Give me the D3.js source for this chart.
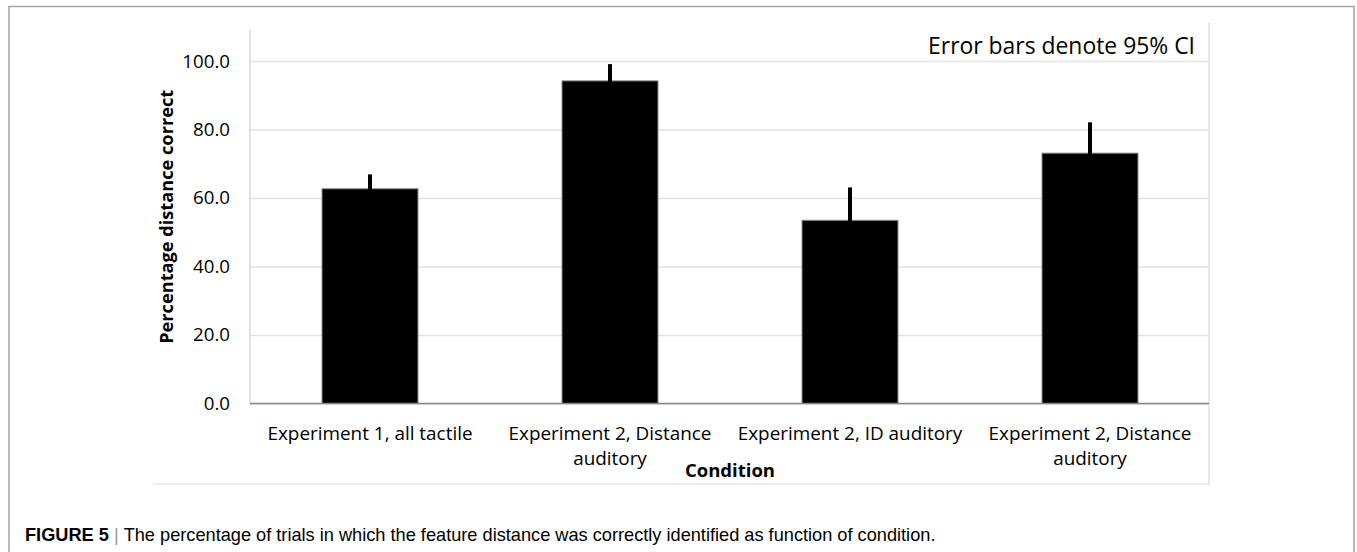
<!DOCTYPE html>
<html>
<head>
<meta charset="utf-8">
<script src="https://cdn.jsdelivr.net/npm/d3@7"></script>
<style>
    body { margin: 0; background: #fff; }
    svg { display: block; }
</style>
</head>
<body>
<div id="chart"></div>
<script>
/**
 * Percentage distance correct by condition (bars + 95% CI)
 */

var conditions = [
    'Experiment 1, all tactile',
    'Experiment 2, Distance auditory',
    'Experiment 2, ID auditory',
    'Experiment 2, Distance auditory '
];
// label lines under each bar
var conditionLines = [
    ['Experiment 1, all tactile'],
    ['Experiment 2, Distance', 'auditory'],
    ['Experiment 2, ID auditory'],
    ['Experiment 2, Distance', 'auditory']
];
var percentCorrect = [62.7, 94.2, 53.5, 73.1];
var ciHalfWidth = [4.2, 4.9, 9.6, 9.0];
var yTicks = [0, 20, 40, 60, 80, 100];

var svgWidth = 1357;
var svgHeight = 552;

var svg = d3.select('#chart')
    .append('svg')
    .attr('width', svgWidth)
    .attr('height', svgHeight);

// outer figure frame
svg.append('rect')
    .attr('x', 9)
    .attr('y', 6.5)
    .attr('width', 1345)
    .attr('height', 560)
    .style('fill', 'none')
    .style('stroke', '#a3a3a3')
    .style('stroke-width', 1.5);

// chart box (only right and bottom edges show)
svg.append('path')
    .attr('d', 'M1209,23 V484 H153')
    .style('fill', 'none')
    .style('stroke', '#d9d9d9')
    .style('stroke-width', 1.2);

var x = d3.scaleBand()
    .domain(conditions)
    .range([250, 1210])
    .paddingInner(0.6)
    .paddingOuter(0.3);

var y = d3.scaleLinear()
    .domain([0, 109])
    .range([403.5, 30.2]);

// gridlines + tick labels
var yAxis = svg.append('g')
    .attr('transform', 'translate(250,0)')
    .call(d3.axisLeft(y)
        .tickValues(yTicks)
        .tickFormat(d3.format('.1f'))
        .tickSize(-959)
        .tickPadding(20));

yAxis.select('.domain').remove();
yAxis.selectAll('.tick line')
    .style('stroke', '#e3e3e3')
    .style('stroke-width', 1.5);
yAxis.selectAll('.tick text')
    .style('font-family', '"Open Sans", sans-serif')
    .style('font-size', '18.7px')
    .style('fill', '#000');

// y axis line
svg.append('line')
    .attr('x1', 250).attr('x2', 250)
    .attr('y1', y(109)).attr('y2', y(0))
    .style('stroke', '#cfcfcf')
    .style('stroke-width', 1.2);

// bars
svg.selectAll('rect.bar')
    .data(percentCorrect)
    .enter()
    .append('rect')
    .attr('class', 'bar')
    .attr('x', function(d, i) { return x(conditions[i]); })
    .attr('y', function(d) { return y(d); })
    .attr('width', x.bandwidth())
    .attr('height', function(d) { return y(0) - y(d); })
    .style('fill', '#000')
    .style('stroke', '#8c8c8c')
    .style('stroke-width', 1);

// error bars
svg.selectAll('line.err')
    .data(percentCorrect)
    .enter()
    .append('line')
    .attr('class', 'err')
    .attr('x1', function(d, i) { return x(conditions[i]) + x.bandwidth() / 2; })
    .attr('x2', function(d, i) { return x(conditions[i]) + x.bandwidth() / 2; })
    .attr('y1', function(d, i) { return y(d - ciHalfWidth[i]); })
    .attr('y2', function(d, i) { return y(d + ciHalfWidth[i]); })
    .style('stroke', '#000')
    .style('stroke-width', 4);

// x axis line
svg.append('line')
    .attr('x1', 250).attr('x2', 1209)
    .attr('y1', y(0)).attr('y2', y(0))
    .style('stroke', '#868686')
    .style('stroke-width', 1.5);

// category labels
var labels = svg.selectAll('text.cat')
    .data(conditionLines)
    .enter()
    .append('text')
    .attr('class', 'cat')
    .attr('text-anchor', 'middle')
    .style('font-family', '"Open Sans", sans-serif')
    .style('font-size', '18.9px')
    .style('fill', '#000');

labels.selectAll('tspan')
    .data(function(d, i) {
        return d.map(function(line) { return { line: line, i: i }; });
    })
    .enter()
    .append('tspan')
    .attr('x', function(d) { return x(conditions[d.i]) + x.bandwidth() / 2; })
    .attr('y', function(d, j) { return 439.5 + j * 25.7; })
    .text(function(d) { return d.line; });

// axis titles
svg.append('text')
    .attr('x', 730)
    .attr('y', 477)
    .attr('text-anchor', 'middle')
    .style('font-family', '"Open Sans", sans-serif')
    .style('font-weight', 'bold')
    .style('font-size', '18.5px')
    .text('Condition');

// centred on the whole plot area, like Excel does
svg.append('text')
    .attr('transform', 'translate(173,' + ((y(0) + y(109)) / 2) + ') rotate(-90)')
    .attr('text-anchor', 'middle')
    .style('font-family', '"Open Sans", sans-serif')
    .style('font-weight', 'bold')
    .style('font-size', '18.2px')
    .text('Percentage distance correct');

// note in the top right
svg.append('text')
    .attr('x', 1195)
    .attr('y', 54)
    .attr('text-anchor', 'end')
    .style('font-family', '"Open Sans", sans-serif')
    .style('font-size', '22.9px')
    .text('Error bars denote 95% CI');

// caption
var caption = svg.append('text')
    .attr('x', 25)
    .attr('y', 540.5)
    .style('font-family', '"Liberation Sans", Arial, sans-serif')
    .style('font-size', '18.2px');

caption.append('tspan')
    .style('font-weight', 'bold')
    .text('FIGURE 5');
caption.append('tspan')
    .attr('dx', 5)
    .style('fill', '#9a9a9a')
    .text('|');
caption.append('tspan')
    .attr('dx', 5)
    .text('The percentage of trials in which the feature distance was correctly identified as function of condition.');
</script>
</body>
</html>
